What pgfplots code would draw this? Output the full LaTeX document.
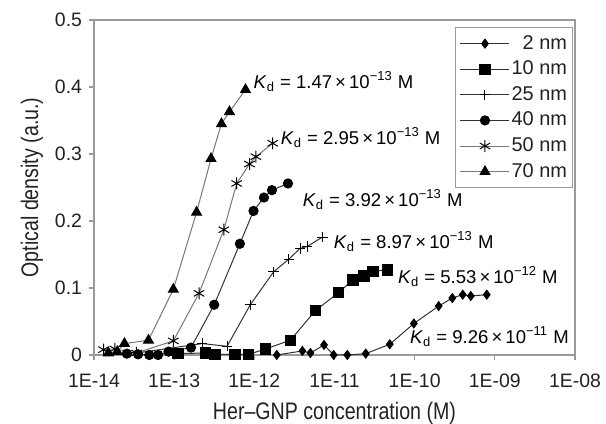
\documentclass[border=0pt]{standalone}
\usepackage{fontspec}
\setmainfont{Liberation Sans}
\newfontfamily\labelfont[FakeStretch=0.82]{Liberation Sans}
\usepackage{pgfplots}
\pgfplotsset{compat=1.18}

\definecolor{txt}{HTML}{222222}
\definecolor{axgray}{HTML}{9A9A9A}
\definecolor{ln}{HTML}{333333}
\definecolor{lnlight}{HTML}{777777}

\newcommand{\kd}[2]{\textit{K}\textsubscript{d} = #1\,×\,10\textsuperscript{−#2} M}

\begin{document}
\begin{tikzpicture}
\begin{axis}[
    scale only axis,
    width=240.5bp, height=167.5bp,
    xmode=log, log basis x=10,
    xmin=1e-14, xmax=1e-8,
    ymin=0, ymax=0.5,
    clip=false,
    axis line style={axgray, line width=0.75bp},
    tick style={axgray, line width=0.6bp},
    tick align=outside,
    major tick length=2.5bp,
    minor tick length=1.5bp,
    minor tick style={yshift=1.5bp},
    xtick pos=left, ytick pos=left,
    xtick={1e-14,1e-13,1e-12,1e-11,1e-10,1e-9,1e-8},
    xticklabels={1E-14,1E-13,1E-12,1E-11,1E-10,1E-09,1E-08},
    ytick={0,0.1,0.2,0.3,0.4,0.5},
    yticklabels={0,0.1,0.2,0.3,0.4,0.5},
    ticklabel style={font=\fontsize{9.75}{11}\selectfont, text=txt},
    xticklabel style={yshift=-3.5bp},
    every axis x label/.style={at={(axis description cs:0.5,-0.173)}, anchor=center},
    every axis y label/.style={at={(axis description cs:-0.129,0.5)}, rotate=90, anchor=center},
    label style={font=\labelfont\fontsize{12}{14}\selectfont, text=txt},
    xlabel={Her–GNP concentration (M)},
    ylabel={Optical density (a.u.)},
    legend style={at={(0.996,0.979)}, anchor=north east,
        draw=axgray, line width=0.5bp, fill=white,
        font=\fontsize{10}{12}\selectfont, text=txt,
        inner xsep=2bp, inner ysep=2.5bp,
        nodes={inner sep=0.8bp, text height=7.5bp, text depth=2bp},
        row sep=1.7bp},
    legend cell align=right,
    legend image code/.code={
        \draw[mark repeat=2, mark phase=2, #1]
        plot coordinates {(0bp,0bp) (12.25bp,0bp) (24.5bp,0bp)};},
]

% 2 nm
\addplot[ln, line width=0.5bp, mark=diamond*, mark size=2.2bp,
    mark options={solid, fill=black, draw=black}] coordinates {
    (1.905e-12,0.000) (3.981e-12,0.006) (5.012e-12,0.003) (7.413e-12,0.015)
    (9.772e-12,0.000) (1.445e-11,0.000) (2.455e-11,0.002) (4.898e-11,0.016)
    (9.772e-11,0.047) (1.995e-10,0.073) (2.951e-10,0.085) (3.981e-10,0.090)
    (5.012e-10,0.088) (7.943e-10,0.090)
};
% 10 nm
\addplot[ln, line width=0.5bp, mark=square*, mark size=2.6bp,
    mark options={solid, fill=black, draw=black}] coordinates {
    (1.122e-13,0.002) (2.455e-13,0.003) (3.236e-13,0.001) (5.754e-13,0.001)
    (8.511e-13,0.001) (1.380e-12,0.009) (2.818e-12,0.022) (5.754e-12,0.066)
    (1.122e-11,0.093) (1.698e-11,0.112) (2.344e-11,0.118) (3.020e-11,0.125)
    (4.571e-11,0.127)
};
% 25 nm
\addplot[ln, line width=0.5bp, mark=+, mark size=2.6bp,
    mark options={solid, black, line width=0.5bp}] coordinates {
    (3.388e-14,0.003) (2.239e-13,0.017) (4.571e-13,0.013) (8.913e-13,0.075)
    (1.738e-12,0.124) (2.692e-12,0.143) (3.715e-12,0.159) (4.571e-12,0.162)
    (7.079e-12,0.176)
};
% 40 nm
\addplot[ln, line width=0.5bp, mark=*, mark size=2.3bp,
    mark options={solid, fill=black, draw=black}] coordinates {
    (2.570e-14,0.002) (3.548e-14,0.001) (4.898e-14,0.000) (6.310e-14,0.000)
    (8.511e-14,0.005) (1.622e-13,0.011) (3.162e-13,0.075) (6.607e-13,0.166)
    (9.772e-13,0.215) (1.318e-12,0.235) (1.660e-12,0.246) (2.630e-12,0.256)
};
% 50 nm
\addplot[lnlight, line width=0.5bp, mark=asterisk, mark size=3bp,
    mark options={solid, black, line width=0.5bp}] coordinates {
    (1.318e-14,0.008) (1.820e-14,0.009) (3.388e-14,0.003) (9.772e-14,0.021)
    (2.042e-13,0.092) (4.169e-13,0.187) (6.026e-13,0.256) (8.710e-13,0.285)
    (1.047e-12,0.296) (1.698e-12,0.316)
};
% 70 nm
\addplot[lnlight, line width=0.5bp, mark=triangle*, mark size=2.8bp,
    mark options={solid, fill=black, draw=black}] coordinates {
    (1.514e-14,0.003) (1.950e-14,0.005) (2.399e-14,0.017) (4.786e-14,0.022)
    (9.772e-14,0.098) (1.905e-13,0.213) (2.884e-13,0.293) (3.890e-13,0.345)
    (4.898e-13,0.363) (7.762e-13,0.396)
};
\legend{2 nm, 10 nm, 25 nm, 40 nm, 50 nm, 70 nm}

\begin{scope}[every node/.style={anchor=base west, inner sep=0pt,
        font=\fontsize{9.3}{11}\selectfont, text=black}]
\node at (axis cs:9.716e-13,0.3978) {\kd{1.47}{13}};
\node at (axis cs:2.113e-12,0.3142) {\kd{2.95}{13}};
\node at (axis cs:3.981e-12,0.2216) {\kd{3.92}{13}};
\node at (axis cs:9.716e-12,0.1594) {\kd{8.97}{13}};
\node at (axis cs:6.130e-11,0.1072) {\kd{5.53}{12}};
\node at (axis cs:8.660e-11,0.0176) {\kd{9.26}{11}};
\end{scope}

\coordinate (bl) at (rel axis cs:0,0);
\coordinate (tr) at (rel axis cs:1,1);
\end{axis}
\pgfresetboundingbox
\path ([xshift=-47bp,yshift=-34.5bp]bl) rectangle ([xshift=15.5bp,yshift=10bp]tr);
\end{tikzpicture}
\end{document}
